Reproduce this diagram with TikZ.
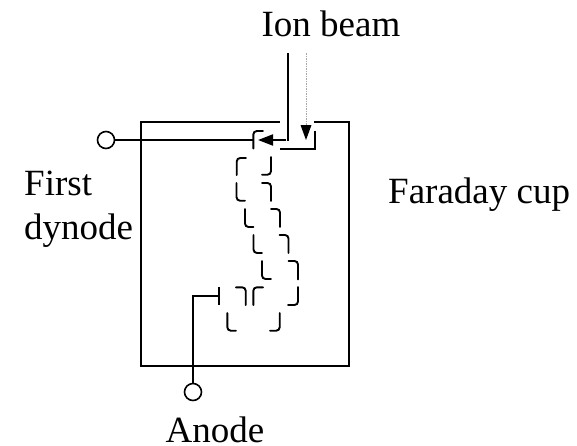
\documentclass[tikz,border=0pt]{standalone}
\usepackage{fontspec}
\setmainfont{Liberation Serif}
\usetikzlibrary{arrows.meta}
\tikzset{
  wire/.style={line width=1.9pt,draw=black},
  plate/.style={line width=1.9pt,draw=black,rounded corners=3.5pt,line cap=round},
  terminal/.style={circle,draw=black,line width=1.6pt,fill=white,minimum size=17pt,inner sep=0pt},
  lab/.style={font=\fontsize{37}{44}\selectfont,inner sep=0pt,anchor=base},
  head/.style={-{Triangle[length=15pt,width=11pt]}}
}
\begin{document}
\begin{tikzpicture}[x=1pt,y=-1pt]
\useasboundingbox (0,0) rectangle (577,445);
% labels
\node[lab] (ion) at (331,36) {Ion beam};
\node[lab,anchor=base west] (cup) at (388,203) {Faraday cup};
\node[lab,anchor=base west] (fd1) at (24,195) {First};
\node[lab,anchor=base west] (fd2) at (24,239) {dynode};
\node[lab] (an) at (215,442) {Anode};
% terminals
\node[terminal] (t1) at (106,140) {};
\node[terminal] (t2) at (193,392) {};
% coordinates
\coordinate (beamA) at (288,53);
\coordinate (beamB) at (288,140.7);
\coordinate (beamC) at (286,140);
\coordinate (tip) at (258,140);
\coordinate (grayA) at (306,53);
\coordinate (grayB) at (306,126);
\coordinate (grayT) at (306,140);
\coordinate (d1) at (253.3,140);
\coordinate (anBar) at (219.3,296);
\coordinate (anCorner) at (193,296);
% housing
\draw[wire] (280,122) -| (141,366) -| (349,122) -- (314,122);
% wires
\draw[wire] (t1) -- (d1);
\draw[wire] (anBar) -- (anCorner) -- (t2);
\draw[wire] (219.3,287) -- (219.3,305);
% ion beam
\draw[wire] (beamA) -- (beamB);
\draw[wire,head] (beamC) -- (tip);
\draw[line width=.7pt,draw=gray!70,dash pattern=on 1.5pt off 1pt] (grayA) -- (grayB);
\fill[black] (grayT) -- (300.5,125) -- (311.5,125) -- cycle;
% Faraday collector
\draw[wire] (280,149) -- (315,149) -- (315,131);
% dynodes
\draw[plate] (253.3,148.5) |- (263,131);
\draw[plate] (236.7,175) |- (246,158);
\draw[plate] (271,157) |- (262,174.7);
\draw[plate] (236.5,183) |- (245,200.7);
\draw[plate] (262,183) -| (271,201);
\draw[plate] (245,209) |- (253.5,227);
\draw[plate] (271,209) -| (280,227);
\draw[plate] (253.5,235) |- (262,253);
\draw[plate] (279.5,235) -| (288.5,253);
\draw[plate] (262,261) |- (271,279);
\draw[plate] (288.5,261) -| (298,279.5);
\draw[plate] (298,287) |- (288,305);
\draw[plate] (236,287.3) -| (245.7,305);
\draw[plate] (253.3,305) |- (263,287.3);
\draw[plate] (227.3,313) |- (236,330.7);
\draw[plate] (279.7,313) |- (270,330.7);
\end{tikzpicture}
\end{document}
